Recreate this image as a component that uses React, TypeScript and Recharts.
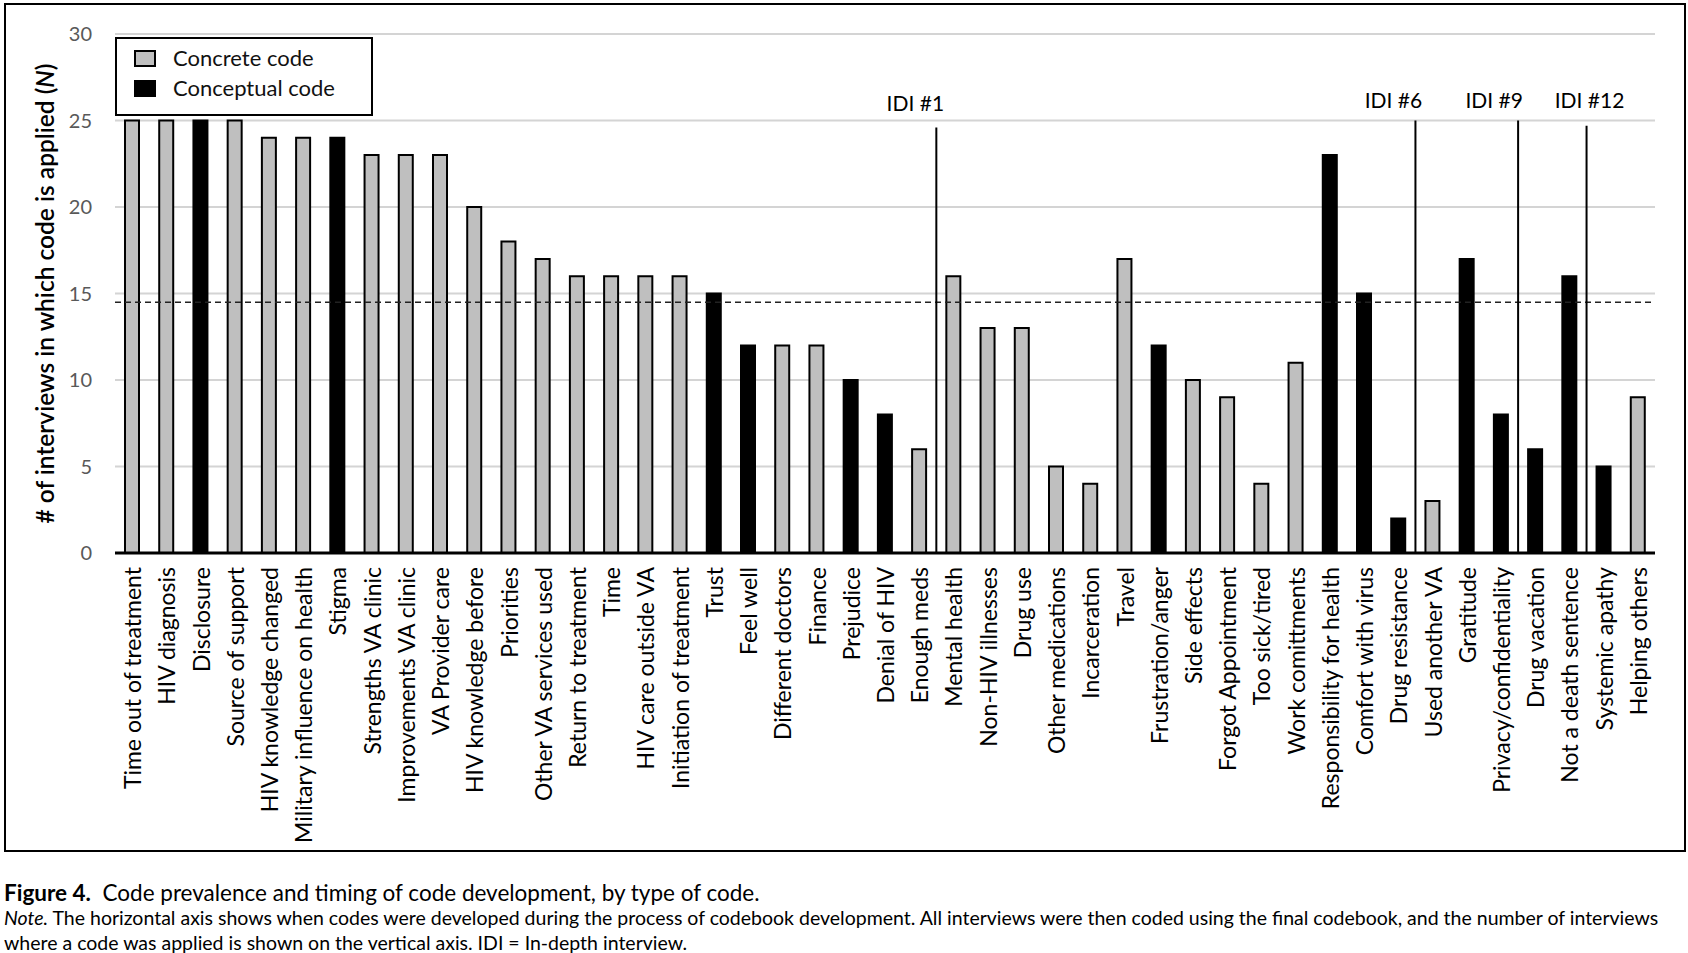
import React from "react";
import {
  BarChart,
  Bar,
  Cell,
  XAxis,
  YAxis,
  CartesianGrid,
  ReferenceLine,
  Legend,
} from "recharts";

// codes in the order they were developed, with interview counts
const codes = [
  "Time out of treatment",
  "HIV diagnosis",
  "Disclosure",
  "Source of support",
  "HIV knowledge changed",
  "Military influence on health",
  "Stigma",
  "Strengths VA clinic",
  "Improvements VA clinic",
  "VA Provider care",
  "HIV knowledge before",
  "Priorities",
  "Other VA services used",
  "Return to treatment",
  "Time",
  "HIV care outside VA",
  "Initiation of treatment",
  "Trust",
  "Feel well",
  "Different doctors",
  "Finance",
  "Prejudice",
  "Denial of HIV",
  "Enough meds",
  "Mental health",
  "Non-HIV illnesses",
  "Drug use",
  "Other medications",
  "Incarceration",
  "Travel",
  "Frustration/anger",
  "Side effects",
  "Forgot Appointment",
  "Too sick/tired",
  "Work comittments",
  "Responsibility for health",
  "Comfort with virus",
  "Drug resistance",
  "Used another VA",
  "Gratitude",
  "Privacy/confidentiality",
  "Drug vacation",
  "Not a death sentence",
  "Systemic apathy",
  "Helping others",
];

const counts = [
  25, 25, 25, 25, 24, 24, 24, 23, 23, 23, 20, 18, 17, 16, 16, 16, 16, 15, 12,
  12, 12, 10, 8, 6, 16, 13, 13, 5, 4, 17, 12, 10, 9, 4, 11, 23, 15, 2, 3, 17,
  8, 6, 16, 5, 9,
];

// C = concrete code, K = conceptual code
const kinds = [
  "C", "C", "K", "C", "C", "C", "K", "C", "C", "C", "C", "C", "C", "C", "C",
  "C", "C", "K", "K", "C", "C", "K", "K", "C", "C", "C", "C", "C", "C", "C",
  "K", "C", "C", "C", "C", "K", "K", "K", "C", "K", "K", "K", "K", "K", "C",
];

const yTicks = [0, 5, 10, 15, 20, 25, 30];

// interview markers: number of codes developed before each interview
const idiLabels = ["IDI #1", "IDI #6", "IDI #9", "IDI #12"];
const idiAfter = [24, 38, 41, 43];
const idiTop = [24.6, 25, 25, 24.7];

const threshold = 14.5;

const data = codes.map((code, i) => ({
  code,
  n: counts[i],
  kind: kinds[i],
  pos: i + 0.5,
}));

const boundaryTicks = codes.map((_, i) => i).concat(codes.length);

const FONT = "Lato, 'Open Sans', sans-serif";
const GREY = "#bfbfbf";

// label nudges, px
const idiDx = [-21, -22, -24, 3];
const idiGap = [25, 21, 21, 26];

const CodeTick = (props: any) => {
  const { x, y, payload } = props;
  return (
    <text
      x={x}
      y={y}
      transform={`rotate(-90, ${x}, ${y})`}
      textAnchor="end"
      dominantBaseline="central"
      dx={0}
      fontSize={23}
      fontFamily={FONT}
      fill="#000"
    >
      {payload.value}
    </text>
  );
};

const YTitle = (props: any) => {
  const vb = props.viewBox || { x: 0, y: 34, height: 519 };
  const cx = 44;
  const cy = vb.y + vb.height / 2;
  return (
    <text
      x={cx}
      y={cy}
      transform={`rotate(-90, ${cx}, ${cy})`}
      textAnchor="middle"
      dominantBaseline="central"
      fontSize={24.5}
      fontWeight={600}
      fontFamily={FONT}
      fill="#000"
    >
      # of interviews in which code is applied (
      <tspan fontStyle="italic">N</tspan>)
    </text>
  );
};

const LegendBox = () => (
  <div
    style={{
      position: "relative",
      width: 258,
      height: 79,
      boxSizing: "border-box",
      border: "2px solid #000",
      background: "#fff",
      fontFamily: FONT,
      fontSize: 22,
      color: "#111",
    }}
  >
    {[
      { name: "Concrete code", fill: GREY, top: 11 },
      { name: "Conceptual code", fill: "#000", top: 41 },
    ].map((it) => (
      <div key={it.name}>
        <div
          style={{
            position: "absolute",
            left: 17,
            top: it.top,
            width: 22,
            height: 17,
            boxSizing: "border-box",
            border: "2px solid #000",
            background: it.fill,
          }}
        />
        <div
          style={{
            position: "absolute",
            left: 56,
            top: it.top - 6,
            lineHeight: "28px",
            whiteSpace: "nowrap",
          }}
        >
          {it.name}
        </div>
      </div>
    ))}
  </div>
);

export default function App() {
  return (
    <div
      style={{
        position: "relative",
        width: 1688,
        height: 953,
        background: "#fff",
        overflow: "hidden",
      }}
    >
      <style>{"body{margin:0}"}</style>
      <div
        style={{
          position: "absolute",
          left: 4,
          top: 3,
          width: 1682,
          height: 849,
          boxSizing: "border-box",
          border: "2px solid #000",
        }}
      />
      <div style={{ position: "absolute", left: 0, top: 0 }}>
        <BarChart
          width={1688}
          height={853}
          data={data}
          margin={{ top: 34, right: 33, left: 0, bottom: 0 }}
        >
          <CartesianGrid
            xAxisId="codes"
            vertical={false}
            stroke="#d4d4d4"
            strokeWidth={2}
          />
          <XAxis
            xAxisId="codes"
            dataKey="code"
            type="category"
            interval={0}
            height={288}
            axisLine={false}
            tickLine={false}
            tickSize={0}
            tick={CodeTick}
          />
          <XAxis
            type="number"
            dataKey="pos"
            domain={[0, codes.length]}
            ticks={boundaryTicks}
            tick={false}
            tickSize={8}
            tickLine={{ stroke: "#000", strokeWidth: 2 }}
            axisLine={{ stroke: "#000", strokeWidth: 3 }}
            height={12}
          />
          <YAxis
            domain={[0, 30]}
            ticks={yTicks}
            width={115}
            axisLine={false}
            tickLine={false}
            tickSize={0}
            tickMargin={23}
            tick={{ fill: "#595959", fontSize: 20, fontFamily: FONT }}
            label={YTitle}
          />
          <Legend
            layout="vertical"
            align="center"
            verticalAlign="middle"
            wrapperStyle={{ left: 115, top: 37, width: 258, height: 79 }}
            content={LegendBox}
          />
          <Bar
            xAxisId="codes"
            dataKey="n"
            barSize={14}
            stroke="#000"
            strokeWidth={2}
            isAnimationActive={false}
          >
            {data.map((d, i) => (
              <Cell key={i} fill={d.kind === "K" ? "#000" : GREY} />
            ))}
          </Bar>
          <ReferenceLine
            y={threshold}
            stroke="#222"
            strokeWidth={1.5}
            strokeDasharray="6 4"
          />
          {idiAfter.map((at, i) => (
            <ReferenceLine
              key={idiLabels[i]}
              segment={[
                { x: at, y: 0 },
                { x: at, y: idiTop[i] },
              ]}
              stroke="#000"
              strokeWidth={2}
              label={(p: any) => {
                const vb = p.viewBox || { x: 0, y: 0 };
                return (
                  <text
                    x={vb.x + idiDx[i]}
                    y={vb.y - idiGap[i]}
                    textAnchor="middle"
                    dominantBaseline="central"
                    fontSize={21}
                    fontFamily={FONT}
                    fill="#000"
                  >
                    {idiLabels[i]}
                  </text>
                );
              }}
            />
          ))}
        </BarChart>
      </div>
      <div
        style={{
          position: "absolute",
          left: 4,
          top: 880,
          fontFamily: FONT,
          fontSize: 19.5,
          lineHeight: "25px",
          color: "#000",
          whiteSpace: "nowrap",
        }}
      >
        <div style={{ fontSize: 22.5 }}>
          <b>Figure 4.</b>&nbsp; Code prevalence and timing of code development,
          by type of code.
        </div>
        <div>
          <i>Note.</i> The horizontal axis shows when codes were developed during
          the process of codebook development. All interviews were then coded
          using the final codebook, and the number of interviews
        </div>
        <div>
          where a code was applied is shown on the vertical axis. IDI = In-depth
          interview.
        </div>
      </div>
    </div>
  );
}
